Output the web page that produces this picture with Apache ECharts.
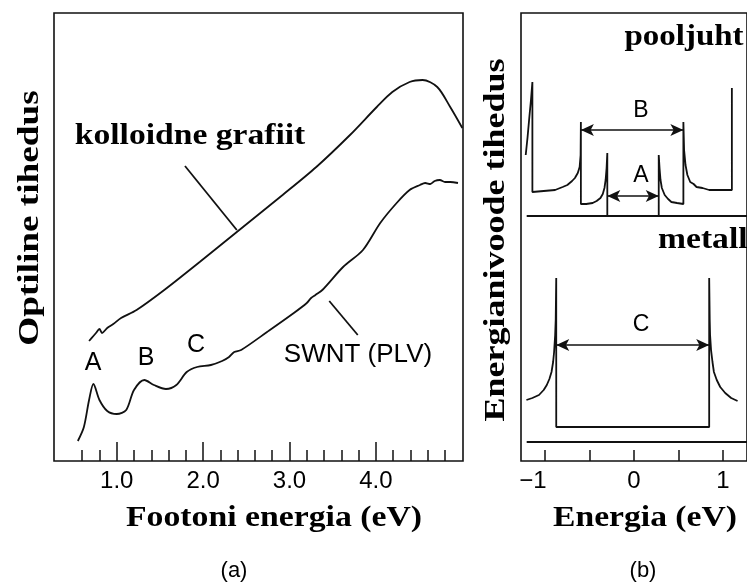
<!DOCTYPE html>
<html>
<head>
<meta charset="utf-8">
<script src="https://cdn.jsdelivr.net/npm/echarts@6.0.0/dist/echarts.min.js"></script>
<style>
  html, body { margin: 0; padding: 0; background: #fff; }
  #chart { width: 747px; height: 585px; }
</style>
</head>
<body>
<div id="chart"></div>
<script>
// (a) optical density, arbitrary units
const grafiitEnergy = [0.68, 0.73, 0.76, 0.80, 0.83, 0.89, 0.96, 1.05, 1.23, 1.55, 1.96, 2.39, 2.92, 3.31, 3.70, 4.01, 4.19, 4.39, 4.54, 4.71, 4.86, 5.00]
const grafiitDensity = [120, 125, 128, 132, 128, 133, 137, 143, 151, 171, 199, 229, 266, 294, 326, 354, 369, 379, 381, 374, 354, 333]

const swntEnergy = [0.55, 0.62, 0.68, 0.73, 0.80, 0.89, 1.00, 1.11, 1.20, 1.32, 1.43, 1.57, 1.69, 1.81, 1.93, 2.09, 2.22, 2.30, 2.36, 2.44, 2.74, 3.05, 3.20, 3.25, 3.30, 3.38, 3.62, 3.85, 4.05, 4.24, 4.39, 4.51, 4.57, 4.63, 4.68, 4.74, 4.80, 4.86, 4.95]
const swntDensity = [20, 34, 61, 77, 61, 50, 47, 51, 71, 81, 76, 72, 76, 89, 94, 96, 100, 104, 109, 111, 129, 148, 158, 163, 166, 171, 194, 211, 238, 258, 271, 276, 278, 277, 280, 281, 279, 279, 278]

const grafiitPointer = [[1.79, 295], [2.39, 231]]
const swntPointer = [[3.46, 160], [3.79, 126]]

const minorTicksA = [0.6, 0.8, 1.0, 1.2, 1.4, 1.6, 1.8, 2.0, 2.2, 2.4, 2.6, 2.8, 3.0, 3.2, 3.4, 3.6, 3.8, 4.0, 4.2, 4.4, 4.6, 4.8]
const majorTicksA = [1, 2, 3, 4]

// (b) density of states
const semiEnergy = [-1.217, -1.196, -1.174, -1.158, -1.142, -1.142, -1.015, -0.887, -0.802, -0.749, -0.696, -0.664, -0.632, -0.611, -0.600, -0.597,
  -0.597, -0.537, -0.465, -0.420, -0.377, -0.351, -0.332, -0.319, -0.308, -0.300, -0.300,
  0.278, 0.278, 0.287, 0.298, 0.313, 0.345, 0.383, 0.420, 0.484, 0.555, 0.555,
  0.563, 0.579, 0.600, 0.632, 0.670, 0.703, 0.770, 0.845, 0.972, 1.100, 1.100]
const semiDos = [306, 324, 346, 361, 379, 269, 270, 271, 274, 276, 280, 283, 288, 294, 306, 339,
  257, 257, 258, 260, 263, 267, 273, 281, 293, 308, 245,
  245, 306, 293, 281, 273, 266, 262, 259, 258, 257, 339,
  311, 296, 286, 279, 277, 274, 273, 271, 271, 271, 373]

const metalEnergy = [-1.209, -1.142, -1.068, -1.015, -0.980, -0.951, -0.927, -0.909, -0.898, -0.886, -0.880, -0.874, -0.874,
  0.845, 0.845, 0.851, 0.855, 0.866, 0.882, 0.898, 0.930, 0.969, 1.025, 1.092, 1.164]
const metalDos = [61, 63, 66, 71, 76, 82, 89, 99, 109, 126, 141, 183, 34,
  34, 183, 141, 126, 111, 99, 89, 81, 74, 68, 63, 60]

const semiBaseline = [[-1.206, 245], [1.27, 245]]
const metalBaseline = [[-1.206, 19], [1.27, 19]]
const gapA = [-0.300, 0.278, 265]
const gapB = [-0.597, 0.555, 331]
const gapC = [-0.874, 0.845, 116]

const ticksB = [-1, -0.5, 0, 0.5, 1]
const labelsB = [-1, 0, 1]

const zip = (xs, ys) => xs.map((x, i) => [x, ys[i]])

const ink = '#111'
const serif = '"Liberation Serif", "Times New Roman", serif'
const sans = '"Liberation Sans", Arial, sans-serif'

const chart = echarts.init(document.getElementById('chart'))

function boldText(text, x, y, scaleX, extra) {
  return Object.assign({
    type: 'text', x: x, y: y, scaleX: scaleX,
    style: { text: text, font: 'bold 30px ' + serif, fill: '#000', textAlign: 'center', textVerticalAlign: 'middle' }
  }, extra || {})
}
function plainText(text, x, y, size) {
  return {
    type: 'text', x: x, y: y,
    style: { text: text, font: size + 'px ' + sans, fill: '#000', textAlign: 'center', textVerticalAlign: 'middle' }
  }
}

const lineSeries = (name, data, xi, yi, smooth) => ({
  name: name,
  type: 'line',
  xAxisIndex: xi,
  yAxisIndex: yi,
  data: data,
  smooth: smooth || false,
  symbol: 'none',
  lineStyle: { color: ink, width: 1.8 },
  silent: true
})

const arrow = (g) => [{ coord: [g[0], g[2]] }, { coord: [g[1], g[2]] }]

chart.setOption({
  animation: false,
  grid: [
    { left: 54, top: 13, width: 409, height: 448, show: true, borderColor: ink, borderWidth: 1.6 },
    { left: 521, top: 13, right: -13, height: 448, show: true, borderColor: ink, borderWidth: 1.6 }
  ],
  xAxis: [
    {
      type: 'value', gridIndex: 0, position: 'bottom', min: 0.274, max: 5.008,
      axisLine: { show: false }, splitLine: { show: false },
      axisTick: { show: true, inside: true, length: 11, customValues: minorTicksA, lineStyle: { color: ink, width: 1.5 } },
      axisLabel: { customValues: majorTicksA, margin: 8, color: '#000', fontSize: 24, fontFamily: sans, formatter: v => v.toFixed(1) }
    },
    {
      type: 'value', gridIndex: 0, position: 'bottom', offset: 0, min: 0.274, max: 5.008,
      axisLine: { show: false }, splitLine: { show: false },
      axisTick: { show: true, inside: true, length: 19, customValues: majorTicksA, lineStyle: { color: ink, width: 1.5 } },
      axisLabel: { show: false }
    },
    {
      type: 'value', gridIndex: 1, position: 'bottom', min: -1.27, max: 1.27,
      axisLine: { show: false }, splitLine: { show: false },
      axisTick: { show: true, inside: true, length: 11, customValues: ticksB, lineStyle: { color: ink, width: 1.5 } },
      axisLabel: {
        customValues: labelsB, margin: 8, color: '#000', fontSize: 24, fontFamily: sans,
        formatter: v => v < 0 ? '{neg|\u2212' + Math.abs(v) + '}' : String(v),
        rich: { neg: { fontSize: 24, fontFamily: sans, color: '#000', padding: [0, 24, 0, 0] } }
      }
    }
  ],
  yAxis: [
    { type: 'value', gridIndex: 0, min: 0, max: 448, show: false },
    { type: 'value', gridIndex: 1, min: 0, max: 448, show: false }
  ],
  series: [
    lineSeries('kolloidne grafiit', zip(grafiitEnergy, grafiitDensity), 0, 0, 0.3),
    lineSeries('SWNT (PLV)', zip(swntEnergy, swntDensity), 0, 0, 0.3),
    lineSeries('pointer1', grafiitPointer, 0, 0),
    lineSeries('pointer2', swntPointer, 0, 0),
    lineSeries('pooljuht', zip(semiEnergy, semiDos), 2, 1),
    lineSeries('metall', zip(metalEnergy, metalDos), 2, 1),
    Object.assign(lineSeries('base1', semiBaseline, 2, 1), {
      markLine: {
        silent: true, symbol: ['arrow', 'arrow'], symbolSize: [9, 13],
        label: { show: false },
        lineStyle: { color: ink, width: 1.6, type: 'solid' },
        data: [arrow(gapA), arrow(gapB), arrow(gapC)]
      }
    }),
    lineSeries('base2', metalBaseline, 2, 1)
  ],
  graphic: [
    boldText('kolloidne grafiit', 190, 136, 1.12),
    boldText('Footoni energia (eV)', 274, 518, 1.125),
    boldText('Energia (eV)', 645, 518, 1.12),
    boldText('pooljuht', 684, 37, 1.1),
    boldText('metall', 658, 240, 1.12, { style: { text: 'metall', font: 'bold 30px ' + serif, fill: '#000', textAlign: 'left', textVerticalAlign: 'middle' } }),
    boldText('Optiline tihedus', 30, 218, 1.24, { rotation: Math.PI / 2 }),
    boldText('Energianivoode tihedus', 496, 240, 1.2, { rotation: Math.PI / 2 }),
    plainText('A', 93, 363, 25),
    plainText('B', 146, 358, 25),
    plainText('C', 196, 345, 25),
    plainText('SWNT (PLV)', 358, 355, 26),
    plainText('B', 641, 111, 23),
    plainText('A', 641, 176, 23),
    plainText('C', 641, 325, 23),
    plainText('(a)', 234, 571, 22),
    plainText('(b)', 643, 571, 22)
  ]
})
</script>
</body>
</html>
